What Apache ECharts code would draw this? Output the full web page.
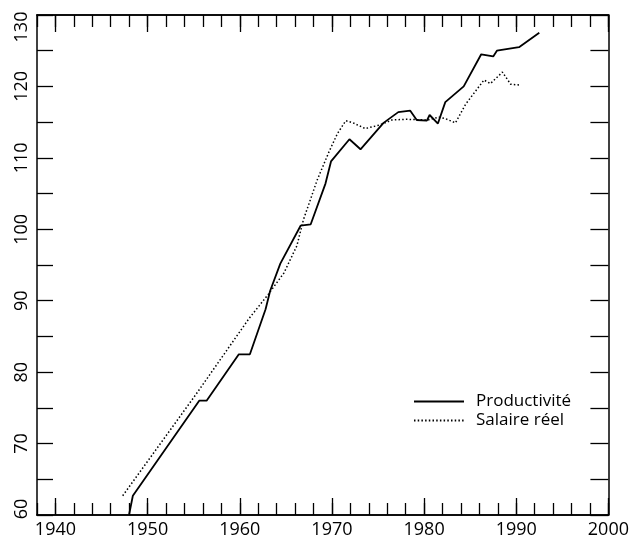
<!DOCTYPE html>
<html>
<head>
<meta charset="utf-8">
<script src="https://cdn.jsdelivr.net/npm/echarts@6/dist/echarts.min.js"></script>
<style>html,body{margin:0;padding:0;background:#fff}#c{width:632px;height:541px}</style>
</head>
<body>
<div id="c"></div>
<script>
// Productivité (solid)
const prodYears = [1948.0,1948.4,1955.6,1956.4,1959.9,1961.1,1962.8,1963.3,1964.4,1966.6,1967.7,1969.3,1969.9,1971.9,1973.1,1975.6,1977.2,1978.5,1979.2,1980.3,1980.6,1981.5,1982.3,1984.3,1986.2,1987.5,1987.9,1990.3,1992.5];
const prodValues = [60.1,62.7,76.0,76.0,82.5,82.5,88.8,91.4,95.2,100.5,100.7,106.4,109.5,112.6,111.2,114.9,116.4,116.6,115.3,115.2,116.0,114.8,117.8,120.0,124.5,124.2,125.0,125.5,127.5];
// Salaire réel (dotted)
const salYears = [1947.3,1955.2,1961.0,1963.1,1964.8,1966.2,1966.9,1968.4,1969.7,1970.6,1971.5,1972.3,1973.6,1975.2,1976.5,1978.1,1980.4,1981.6,1982.3,1983.4,1984.5,1985.5,1986.5,1987.2,1988.5,1989.4,1990.4];
const salValues = [62.7,76.8,87.5,90.9,93.9,97.7,101.3,106.9,110.9,113.4,115.2,114.9,114.1,114.6,115.3,115.4,115.3,115.7,115.5,114.9,117.5,119.2,120.9,120.4,122.0,120.3,120.2];
const seriesNames = ['Productivité','Salaire réel'];
const xMajorTicks = [1940,1950,1960,1970,1980,1990,2000];
const yLabelTicks = [60,70,80,90,100,110,120,130];

const FONT = 'Open Sans';
const chart = echarts.init(document.getElementById('c'), null, {renderer:'canvas'});
const lineCol = '#000';
const baseX = {type:'value', min:1938, max:2000, splitLine:{show:false},
  axisLine:{lineStyle:{color:lineCol,width:1.5}}};
const option = {
  animation:false,
  backgroundColor:'#fff',
  grid:{left:37,right:21,top:15,bottom:26,containLabel:false},
  legend:{
    orient:'vertical', left:408, top:388, itemWidth:50, itemHeight:14, itemGap:2,
    data:seriesNames,
    itemStyle:{opacity:0},
    textStyle:{fontFamily:FONT,fontSize:17,color:'#000',padding:[0,0,0,7]}
  },
  xAxis:[
    Object.assign({}, baseX, {position:'bottom', interval:2,
      axisTick:{inside:true,length:12,lineStyle:{color:lineCol,width:1.3}},
      axisLabel:{show:false}}),
    Object.assign({}, baseX, {position:'bottom',
      axisTick:{inside:true,length:17,customValues:xMajorTicks,lineStyle:{color:lineCol,width:1.3}},
      axisLabel:{customValues:xMajorTicks,fontFamily:FONT,fontSize:18,color:'#000',margin:6,
        formatter:function(v){return String(v);}}}),
    Object.assign({}, baseX, {position:'top', interval:2,
      axisTick:{inside:true,length:12,lineStyle:{color:lineCol,width:1.3}},
      axisLabel:{show:false}}),
    Object.assign({}, baseX, {position:'top',
      axisTick:{inside:true,length:17,customValues:xMajorTicks,lineStyle:{color:lineCol,width:1.3}},
      axisLabel:{show:false}})
  ],
  yAxis:[
    {type:'value', position:'left', min:60, max:130, interval:5, splitLine:{show:false},
     axisLine:{show:true,lineStyle:{color:lineCol,width:1.5}},
     axisTick:{show:true,inside:true,length:16,lineStyle:{color:lineCol,width:1.3}},
     axisLabel:{rotate:90, margin:6, fontFamily:FONT, fontSize:18, color:'#000',
       formatter:function(v){
         if (yLabelTicks.indexOf(v) < 0) return '';
         if (v === 130) return '{top|' + v + '}';
         if (v === 60) return '{bot|' + v + '}';
         return String(v);
       },
       rich:{
         top:{fontFamily:FONT,fontSize:18,color:'#000',padding:[0,24,0,0]},
         bot:{fontFamily:FONT,fontSize:18,color:'#000',padding:[0,0,0,12]}
       }}},
    {type:'value', position:'right', min:60, max:130, interval:5, splitLine:{show:false},
     axisLine:{show:true,lineStyle:{color:lineCol,width:1.5}},
     axisTick:{show:true,inside:true,length:18,lineStyle:{color:lineCol,width:1.3}},
     axisLabel:{show:false}}
  ],
  series:[
    {name:seriesNames[0], type:'line', xAxisIndex:0, yAxisIndex:0, symbol:'none',
     lineStyle:{color:'#000',width:1.8,type:'solid'},
     itemStyle:{color:'#000'},
     data:prodYears.map((y,i)=>[y,prodValues[i]])},
    {name:seriesNames[1], type:'line', xAxisIndex:0, yAxisIndex:0, symbol:'none',
     lineStyle:{color:'#000',width:1.5,type:[1.5,2.2]},
     itemStyle:{color:'#000'},
     data:salYears.map((y,i)=>[y,salValues[i]])}
  ]
};
chart.setOption(option);
</script>
</body>
</html>
